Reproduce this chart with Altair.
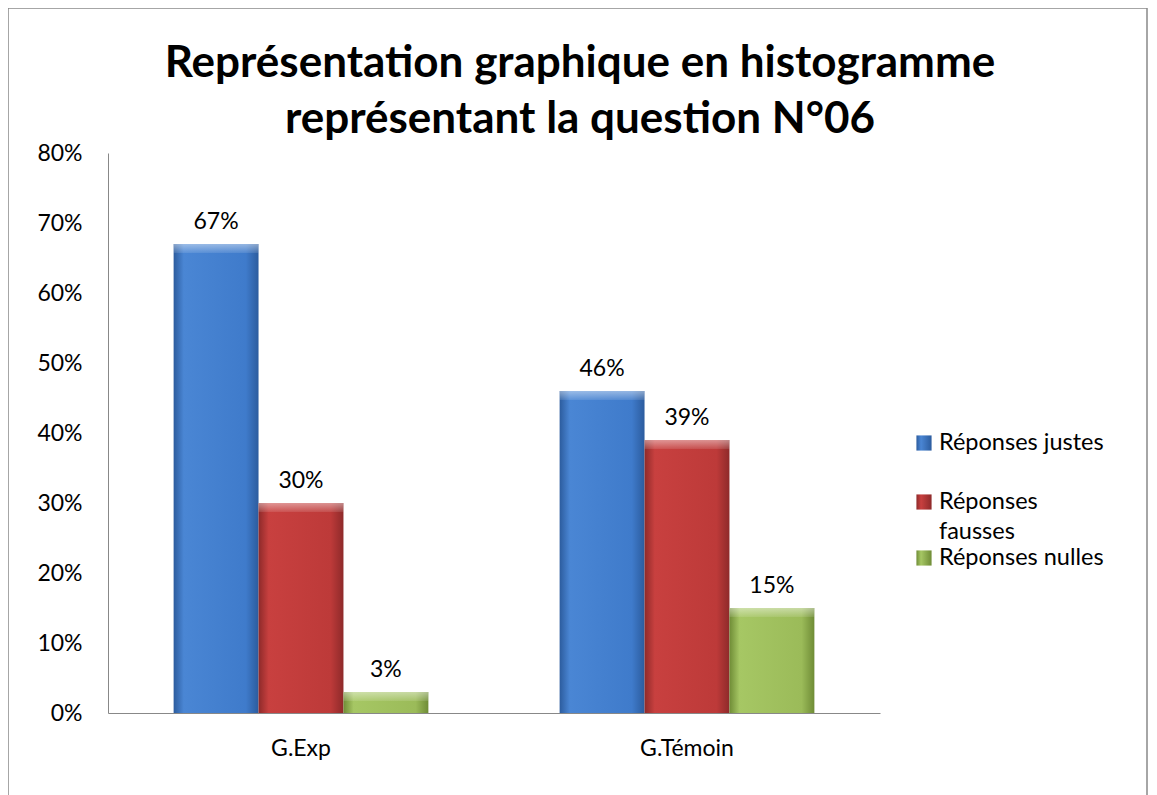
import altair as alt
import pandas as pd

groups = ["G.Exp", "G.Témoin"]
series = ["Réponses justes", "Réponses fausses", "Réponses nulles"]
legend_lines = [["Réponses justes"], ["Réponses", "fausses"], ["Réponses nulles"]]
values = {
    "Réponses justes": [0.67, 0.46],
    "Réponses fausses": [0.30, 0.39],
    "Réponses nulles": [0.03, 0.15],
}
title_lines = ["Représentation graphique en histogramme", "représentant la question N°06"]
grad_stops = {
    "Réponses justes": ["#2c5c9e", "#4a86d4", "#3f7bcb", "#2c5c9e"],
    "Réponses fausses": ["#8e2a2a", "#c8403f", "#bd3a39", "#8e2a2a"],
    "Réponses nulles": ["#6f8c36", "#a6c764", "#9bbb59", "#6f8c36"],
}

rows = []
for s in series:
    for g, v in zip(groups, values[s]):
        rows.append({"group": g, "series": s, "value": v, "label": f"{round(v*100)}%"})
df = pd.DataFrame(rows)

FONT = "Lato"
FS = 23

x_enc = alt.X("group:N", sort=groups, title=None,
              scale=alt.Scale(paddingInner=0.34, paddingOuter=0.17),
              axis=alt.Axis(labelAngle=0, labelFontSize=FS, labelPadding=24, ticks=False,
                            domainColor="#888888", labelColor="#000", labelFont=FONT))
xo = alt.XOffset("series:N", sort=series, scale=alt.Scale(paddingInner=0, paddingOuter=0))
y_enc = alt.Y("value:Q", title=None,
              scale=alt.Scale(domain=[0, 0.8]),
              axis=alt.Axis(format=".0%", values=[i/10 for i in range(9)], grid=False, ticks=False,
                            labelFontSize=FS, labelPadding=26, domainColor="#888888",
                            labelColor="#000", labelFont=FONT))

base = alt.Chart(df)

layers = []
for s in series:
    c = grad_stops[s]
    layers.append(
        base.transform_filter(alt.datum.series == s).mark_bar(
            fill=alt.Gradient(gradient="linear", x1=0, x2=1, y1=0, y2=0,
                              stops=[alt.GradientStop(color=c[0], offset=0),
                                     alt.GradientStop(color=c[1], offset=0.12),
                                     alt.GradientStop(color=c[2], offset=0.85),
                                     alt.GradientStop(color=c[3], offset=1)])
        ).encode(x=x_enc, xOffset=xo, y=y_enc)
    )

# top bevel highlight of each bar
layers.append(base.mark_bar(
    y2Offset=9,
    fill=alt.Gradient(gradient="linear", x1=0, x2=0, y1=0, y2=1,
                      stops=[alt.GradientStop(color="rgba(255,255,255,0.45)", offset=0),
                             alt.GradientStop(color="rgba(255,255,255,0.1)", offset=1)])
).encode(x=x_enc, xOffset=xo, y=y_enc, y2="value:Q"))

text = base.mark_text(baseline="alphabetic", dy=-15, fontSize=FS, font=FONT, color="#000").encode(
    x=x_enc, xOffset=xo, y=y_enc, text="label:N")
layers.append(text)

one = pd.DataFrame({"a": [0]})

# title
for line, yv in zip(title_lines, [-76, -20]):
    layers.append(alt.Chart(one).mark_text(
        text=line, font=FONT, fontSize=44, fontWeight="bold", color="#000",
        align="center", baseline="alphabetic").encode(x=alt.value(472), y=alt.value(yv)))

# legend (manual, to match the wrapped label spacing)
leg_y = [290, 349, 405]
for s, lines, yv in zip(series, legend_lines, leg_y):
    c = grad_stops[s]
    layers.append(alt.Chart(one).mark_square(
        size=230, opacity=1,
        fill=alt.Gradient(gradient="linear", x1=0, x2=1, y1=0, y2=0,
                          stops=[alt.GradientStop(color=c[0], offset=0),
                                 alt.GradientStop(color=c[1], offset=0.3),
                                 alt.GradientStop(color=c[3], offset=1)])
    ).encode(x=alt.value(816), y=alt.value(yv)))
    for k, ln in enumerate(lines):
        layers.append(alt.Chart(one).mark_text(
            text=ln, font=FONT, fontSize=23.5, color="#000", align="left", baseline="middle"
        ).encode(x=alt.value(831), y=alt.value(yv + 30 * k)))

frame = alt.Chart(one).mark_rule(color="#888888", strokeWidth=1.5)
layers += [
    frame.encode(x=alt.value(-100), y=alt.value(-145), y2=alt.value(700)),
    frame.encode(x=alt.value(1039), y=alt.value(-145), y2=alt.value(700)),
    frame.encode(x=alt.value(-100), x2=alt.value(1039), y=alt.value(-145)),
]

chart = alt.layer(*layers).properties(
    width=772, height=560,
    padding={"left": 100, "top": 145, "right": 269, "bottom": 82},
    autosize=alt.AutoSizeParams(type="none"),
).configure_view(stroke=None)

chart.save("out.html", embed_options={"renderer": "svg", "actions": False})
